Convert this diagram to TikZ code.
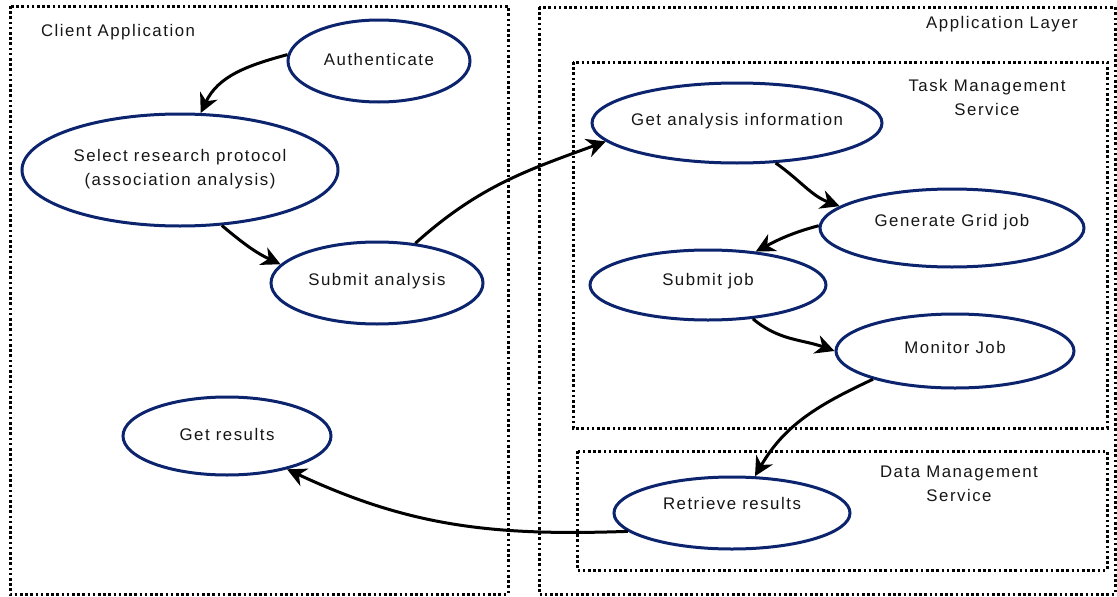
\documentclass[tikz,border=0pt]{standalone}
\usepackage{fontspec}
\setmainfont{Liberation Sans}[LetterSpace=9]
\usetikzlibrary{shapes.geometric,arrows.meta}
\definecolor{navy}{RGB}{12,36,110}
\definecolor{ink}{RGB}{22,22,22}
\begin{document}
\begin{tikzpicture}[x=1pt,y=1pt,
  every node/.style={font=\fontsize{16.8}{24}\selectfont, text=ink, align=center, inner sep=0pt},
  proc/.style={ellipse, draw=navy, line width=3pt, fill=white},
  area/.style={draw=black, line width=3pt, dash pattern=on 2.6pt off 2.6pt},
  flow/.style={draw=black, line width=3pt, -{Stealth[length=19pt,width=19pt,inset=6pt]}}]
\useasboundingbox (0,0) rectangle (1117,-597);

% layer boxes
\draw[area] (10,-6) rectangle (508,-594);
\draw[area] (539,-7) rectangle (1115,-594);
\draw[area] (573,-62) rectangle (1107,-428);
\draw[area] (577,-451) rectangle (1107,-570);

\node (clientT) at (118,-32) {Client Application};
\node (appT) at (1002,-24) {Application Layer};
\node (taskT) at (987,-97) {Task Management\\Service};
\node (dataT) at (959,-484) {Data Management\\Service};

% process ellipses
\node[proc, minimum width=182pt, minimum height=82pt] (auth) at (379,-61) {};
\node[proc, minimum width=316pt, minimum height=112pt] (sel) at (180,-170) {};
\node[proc, minimum width=212pt, minimum height=82pt] (subA) at (377,-283) {};
\node[proc, minimum width=208pt, minimum height=78pt] (getR) at (227,-436) {};
\node[proc, minimum width=290pt, minimum height=80pt] (gai) at (737,-123) {};
\node[proc, minimum width=264pt, minimum height=78pt] (ggj) at (952,-228) {};
\node[proc, minimum width=236pt, minimum height=70pt] (subJ) at (708,-285) {};
\node[proc, minimum width=238pt, minimum height=74pt] (mon) at (955,-351) {};
\node[proc, minimum width=236pt, minimum height=72pt] (ret) at (732,-513) {};

\node (authL) at (379,-59) {Authenticate};
\node (selL) at (180,-169) {Select research protocol\\(association analysis)};
\node (subAL) at (377,-281) {Submit analysis};
\node (getRL) at (227,-434) {Get results};
\node (gaiL) at (737,-121) {Get analysis information};
\node (ggjL) at (952,-222) {Generate Grid job};
\node (subJL) at (708,-281) {Submit job};
\node (monL) at (955,-347) {Monitor Job};
\node (retL) at (732,-503) {Retrieve results};

% workflow
\draw[flow] (auth.176) to[out=195,in=65] (sel.70);
\draw[flow] (sel.-53) to[out=-40,in=155] (subA.169);
\draw[flow] (subA.46) to[out=42,in=200] (gai.188);
\draw[flow] (gai.-46) to[out=-35,in=160] (ggj.169);
\draw[flow] (ggj.179) to[out=195,in=28] (subJ.35);
\draw[flow] (subJ.-37) to[out=-40,in=160] (mon.180);
\draw[flow] (mon.199) to[out=205,in=60] (ret.58);
\draw[flow] (ret.190) to[out=182,in=-25] (getR.-29);
\end{tikzpicture}
\end{document}
